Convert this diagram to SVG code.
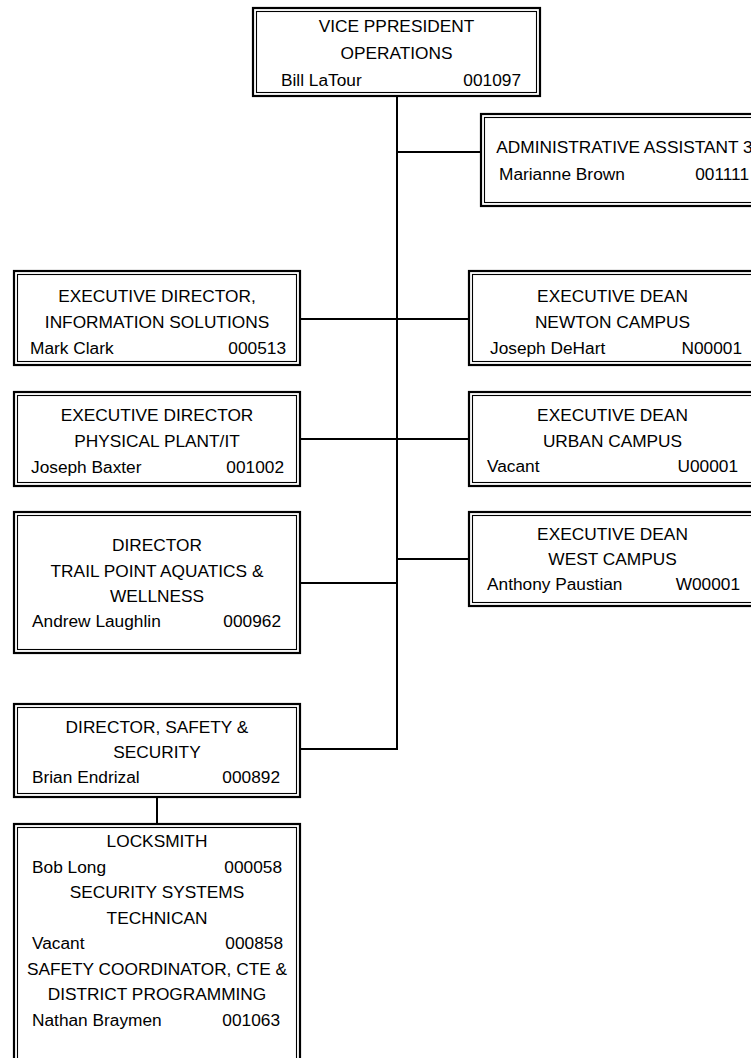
<svg xmlns="http://www.w3.org/2000/svg" width="751" height="1058" viewBox="0 0 751 1058">
<style>
.o{fill:#fff;stroke:#000;stroke-width:2.2}
.i{fill:none;stroke:#000;stroke-width:1.1}
text{font-family:"Liberation Sans",Arial,sans-serif;font-size:17.3px;fill:#000}
.c{text-anchor:middle}
.r{text-anchor:end}
.ln{stroke:#000;stroke-width:2;fill:none}
</style>
<rect width="751" height="1058" fill="#fff"/>
<g id="connectors">
<path class="ln" d="M397 97V750M397 152H480M301 319H469M301 439H469M301 583H397M397 559H469M301 749H397M157 798V823"/>
</g>
<g id="vp">
<rect class="o" x="253" y="8" width="287" height="88"/>
<rect class="i" x="256.5" y="11.5" width="280" height="81"/>
<text class="c" x="396.5" y="32">VICE PPRESIDENT</text>
<text class="c" x="396.5" y="59">OPERATIONS</text>
<text x="281" y="86">Bill LaTour</text>
<text class="r" x="521" y="86">001097</text>
</g>
<g id="admin">
<rect class="o" x="481" y="114" width="287" height="92"/>
<rect class="i" x="484.5" y="117.5" width="280" height="85"/>
<text class="c" x="624.5" y="153">ADMINISTRATIVE ASSISTANT 3</text>
<text x="499" y="180">Marianne Brown</text>
<text class="r" x="749" y="180">001111</text>
</g>
<g id="edis">
<rect class="o" x="14" y="271" width="286" height="94"/>
<rect class="i" x="17.5" y="274.5" width="279" height="87"/>
<text class="c" x="157" y="302">EXECUTIVE DIRECTOR,</text>
<text class="c" x="157" y="328">INFORMATION SOLUTIONS</text>
<text x="30" y="354">Mark Clark</text>
<text class="r" x="286" y="354">000513</text>
</g>
<g id="newton">
<rect class="o" x="469" y="271" width="287" height="94"/>
<rect class="i" x="472.5" y="274.5" width="280" height="87"/>
<text class="c" x="612.5" y="302">EXECUTIVE DEAN</text>
<text class="c" x="612.5" y="328">NEWTON CAMPUS</text>
<text x="490" y="354">Joseph DeHart</text>
<text class="r" x="742" y="354">N00001</text>
</g>
<g id="pp">
<rect class="o" x="14" y="392" width="286" height="94"/>
<rect class="i" x="17.5" y="395.5" width="279" height="87"/>
<text class="c" x="157" y="421">EXECUTIVE DIRECTOR</text>
<text class="c" x="157" y="447">PHYSICAL PLANT/IT</text>
<text x="31" y="473">Joseph Baxter</text>
<text class="r" x="284" y="473">001002</text>
</g>
<g id="urban">
<rect class="o" x="469" y="392" width="287" height="94"/>
<rect class="i" x="472.5" y="395.5" width="280" height="87"/>
<text class="c" x="612.5" y="421">EXECUTIVE DEAN</text>
<text class="c" x="612.5" y="447">URBAN CAMPUS</text>
<text x="487" y="472">Vacant</text>
<text class="r" x="738" y="472">U00001</text>
</g>
<g id="trail">
<rect class="o" x="14" y="512" width="286" height="141"/>
<rect class="i" x="17.5" y="515.5" width="279" height="134"/>
<text class="c" x="157" y="551">DIRECTOR</text>
<text class="c" x="157" y="577">TRAIL POINT AQUATICS &amp;</text>
<text class="c" x="157" y="602">WELLNESS</text>
<text x="32" y="627">Andrew Laughlin</text>
<text class="r" x="281" y="627">000962</text>
</g>
<g id="west">
<rect class="o" x="469" y="512" width="287" height="94"/>
<rect class="i" x="472.5" y="515.5" width="280" height="87"/>
<text class="c" x="612.5" y="540">EXECUTIVE DEAN</text>
<text class="c" x="612.5" y="565">WEST CAMPUS</text>
<text x="487" y="590">Anthony Paustian</text>
<text class="r" x="740" y="590">W00001</text>
</g>
<g id="safety">
<rect class="o" x="14" y="704" width="286" height="93"/>
<rect class="i" x="17.5" y="707.5" width="279" height="86"/>
<text class="c" x="157" y="733">DIRECTOR, SAFETY &amp;</text>
<text class="c" x="157" y="758">SECURITY</text>
<text x="32" y="783">Brian Endrizal</text>
<text class="r" x="280" y="783">000892</text>
</g>
<g id="locksmith">
<rect class="o" x="14" y="824" width="286" height="260"/>
<rect class="i" x="17.5" y="827.5" width="279" height="253"/>
<text class="c" x="157" y="847">LOCKSMITH</text>
<text x="32" y="872.5">Bob Long</text>
<text class="r" x="282" y="872.5">000058</text>
<text class="c" x="157" y="898">SECURITY SYSTEMS</text>
<text class="c" x="157" y="923.5">TECHNICAN</text>
<text x="32" y="949">Vacant</text>
<text class="r" x="283" y="949">000858</text>
<text class="c" x="157" y="974.5">SAFETY COORDINATOR, CTE &amp;</text>
<text class="c" x="157" y="1000">DISTRICT PROGRAMMING</text>
<text x="32" y="1025.5">Nathan Braymen</text>
<text class="r" x="280" y="1025.5">001063</text>
</g>
</svg>
